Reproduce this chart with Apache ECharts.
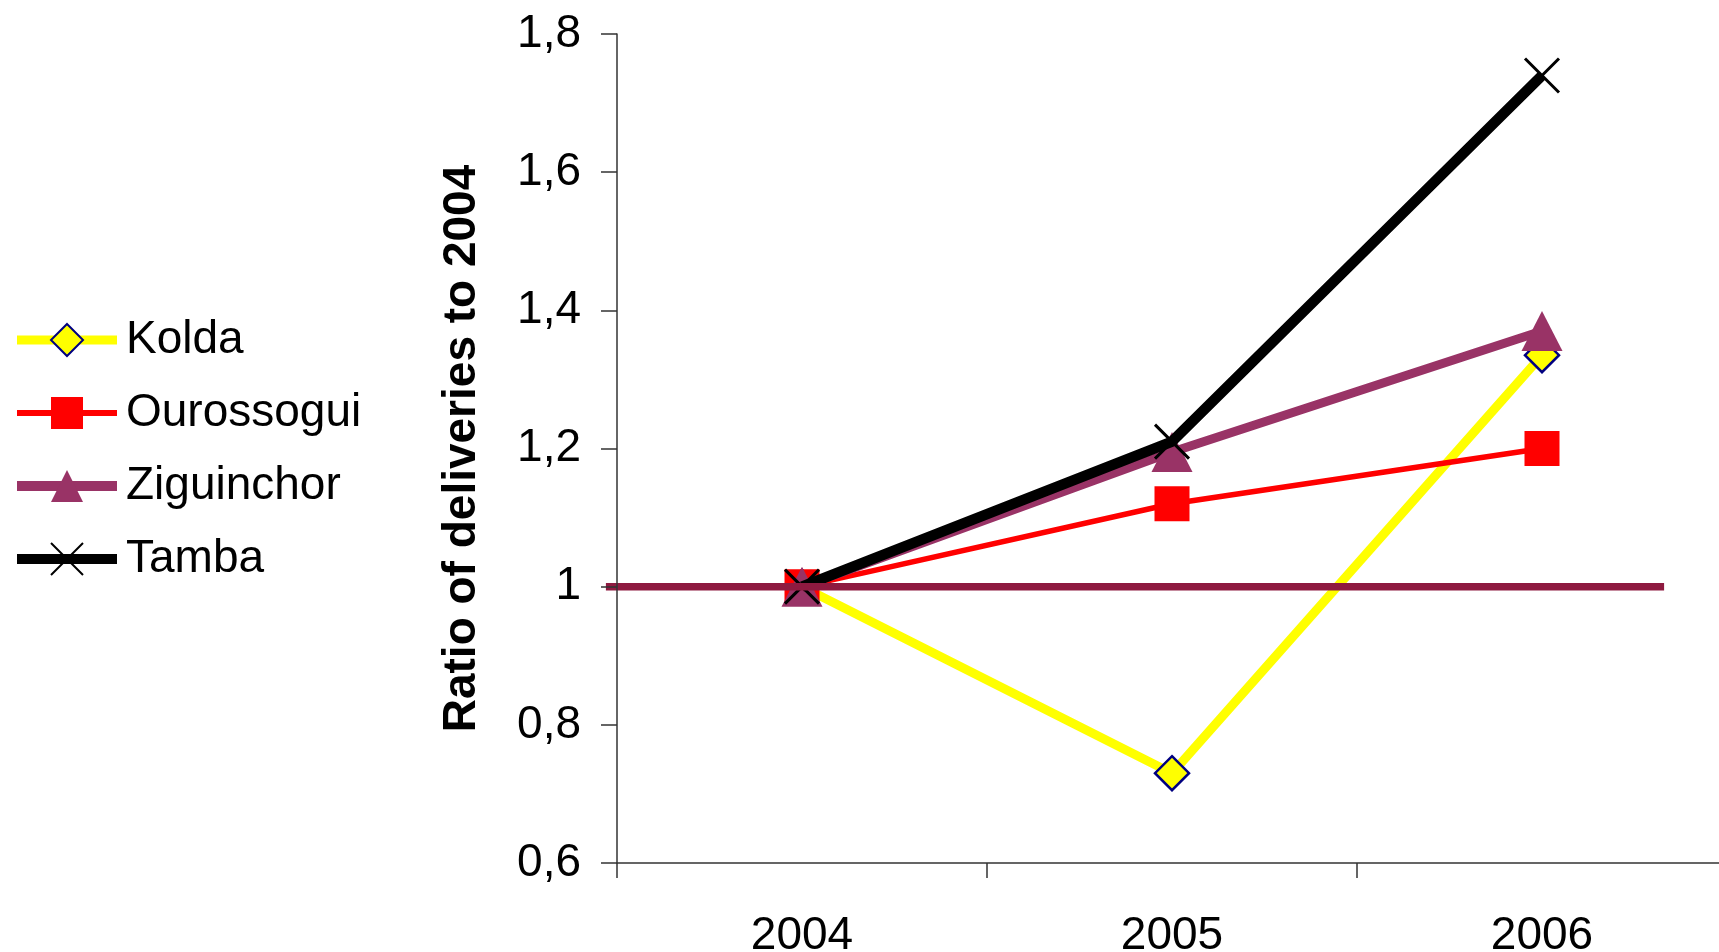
<!DOCTYPE html>
<html>
<head>
<meta charset="utf-8">
<script src="https://cdn.jsdelivr.net/npm/echarts@6/dist/echarts.min.js"></script>
<style>html,body{margin:0;padding:0;background:#fff;}#c{width:1719px;height:952px;}</style>
</head>
<body>
<div id="c"></div>
<script>
const categories = ['2004', '2005', '2006'];
const kolda = [1.0, 0.73, 1.335];
const ourossogui = [1.0, 1.12, 1.2];
const ziguinchor = [1.0, 1.195, 1.37];
const tamba = [1.0, 1.21, 1.74];
const baselineValue = 1.0;
const baselineX = [-0.03, 2.83];
const yTicks = { min: 0.6, max: 1.8, interval: 0.2 };

const FONT = "'Liberation Sans', Arial, sans-serif";
const chart = echarts.init(document.getElementById('c'), null, { renderer: 'canvas' });

const xPath = 'path://M0,0L10,10M10,0L0,10';
const plotLeft = 617, catW = 370, overhang = 0.05;

chart.setOption({
  animation: false,
  backgroundColor: '#ffffff',
  textStyle: { fontFamily: FONT },
  grid: [
    { left: plotLeft, width: catW * 3, top: 34, height: 829, outerBoundsMode: 'none', containLabel: false },
    { left: plotLeft - overhang * catW, width: catW * (3 + overhang), top: 34, height: 829, outerBoundsMode: 'none', containLabel: false }
  ],
  legend: {
    orient: 'vertical',
    left: 12,
    top: 317,
    padding: 0,
    itemWidth: 100,
    itemHeight: 40,
    itemGap: 27,
    data: [
      { name: 'Kolda', lineStyle: { width: 9 } },
      { name: 'Ourossogui', lineStyle: { width: 6 } },
      { name: 'Ziguinchor', lineStyle: { width: 10 } },
      { name: 'Tamba', lineStyle: { width: 10 } }
    ],
    textStyle: { fontSize: 46, color: '#000', fontFamily: FONT, padding: [0, 0, 0, 4] }
  },
  xAxis: [{
    type: 'category',
    gridIndex: 0,
    data: categories,
    boundaryGap: true,
    z: 10,
    axisLine: { lineStyle: { color: '#333333', width: 1.5 } },
    axisTick: { show: true, length: 15, lineStyle: { color: '#333333', width: 1.5 } },
    axisLabel: { fontSize: 46, color: '#000', margin: 50, fontFamily: FONT },
    splitLine: { show: false }
  }, {
    type: 'value',
    gridIndex: 1,
    min: -overhang, max: 3,
    show: false
  }],
  yAxis: [{
    type: 'value',
    gridIndex: 0,
    min: yTicks.min,
    max: yTicks.max,
    interval: yTicks.interval,
    z: 10,
    name: 'Ratio of deliveries to 2004',
    nameLocation: 'middle',
    nameRotate: 90,
    nameGap: 132,
    nameTextStyle: { fontSize: 46, fontWeight: 'bold', color: '#000', fontFamily: FONT },
    axisLine: { show: true, lineStyle: { color: '#333333', width: 1.5 } },
    axisTick: { show: true, length: 16, lineStyle: { color: '#333333', width: 1.5 } },
    axisLabel: {
      fontSize: 46, color: '#000', margin: 36, fontFamily: FONT,
      formatter: v => String(Math.round(v * 10) / 10).replace('.', ',')
    },
    splitLine: { show: false }
  }, {
    type: 'value',
    gridIndex: 1,
    min: yTicks.min,
    max: yTicks.max,
    show: false
  }],
  series: [
    {
      name: 'Kolda', type: 'line', data: kolda,
      symbol: 'diamond', symbolSize: 34,
      lineStyle: { color: '#ffff00', width: 9 },
      itemStyle: { color: '#ffff00', borderColor: '#000080', borderWidth: 2.5 },
      z: 2
    },
    {
      name: 'Ourossogui', type: 'line', data: ourossogui,
      symbol: 'rect', symbolSize: 35,
      lineStyle: { color: '#ff0000', width: 5.5 },
      itemStyle: { color: '#ff0000' },
      z: 3
    },
    {
      name: 'Ziguinchor', type: 'line', data: ziguinchor,
      symbol: 'triangle', symbolSize: [41, 40],
      lineStyle: { color: '#993366', width: 9 },
      itemStyle: { color: '#993366' },
      z: 4
    },
    {
      name: 'Tamba', type: 'line', data: tamba,
      symbol: xPath, symbolSize: 34, symbolKeepAspect: true,
      lineStyle: { color: '#000000', width: 10.5 },
      itemStyle: { color: '#000000', borderColor: '#000000', borderWidth: 3 },
      z: 5
    },
    {
      name: 'baseline', type: 'line',
      xAxisIndex: 1, yAxisIndex: 1,
      data: baselineX.map(x => [x, baselineValue]),
      symbol: 'none',
      clip: false,
      lineStyle: { color: '#8e1a40', width: 7.5, cap: 'butt' },
      z: 6, silent: true
    }
  ]
});
</script>
</body>
</html>
